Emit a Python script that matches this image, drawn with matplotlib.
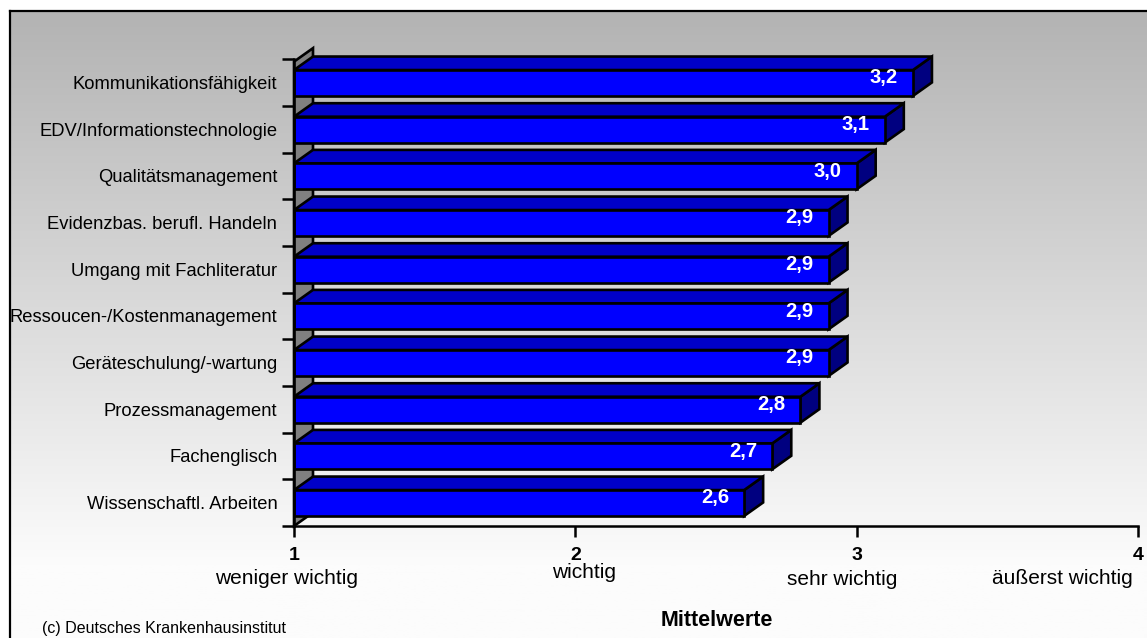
import numpy as np
import matplotlib.pyplot as plt
from matplotlib.patches import Polygon

plt.rcParams['font.family'] = ['Liberation Sans', 'DejaVu Sans']

# data (top to bottom as shown)
kompetenzen = [
    "Kommunikationsfähigkeit",
    "EDV/Informationstechnologie",
    "Qualitätsmanagement",
    "Evidenzbas. berufl. Handeln",
    "Umgang mit Fachliteratur",
    "Ressoucen-/Kostenmanagement",
    "Geräteschulung/-wartung",
    "Prozessmanagement",
    "Fachenglisch",
    "Wissenschaftl. Arbeiten",
]
mittelwerte = [3.2, 3.1, 3.0, 2.9, 2.9, 2.9, 2.9, 2.8, 2.7, 2.6]

skala_werte = [1, 2, 3, 4]
skala_texte = ["weniger wichtig", "wichtig", "sehr wichtig", "äußerst wichtig"]

W, H = 1147, 638
fig = plt.figure(figsize=(W / 100, H / 100), dpi=100)
fig.patch.set_facecolor("white")

# grey-to-white gradient inside the frame
bg = fig.add_axes([0, 0, 1, 1], zorder=-10)
bg.set_xlim(0, W)
bg.set_ylim(H, 0)
bg.axis("off")
grad = np.linspace(179, 252, 300)
grad = np.clip(np.concatenate([grad, np.full(40, 252)]), 0, 255) / 255.0
img = np.repeat(grad[:, None], 2, axis=1)
bg.imshow(np.dstack([img, img, img]), extent=[10, W, 640, 11], aspect="auto")
bg.plot([10, 10], [H, 11], color="black", lw=1.6)
bg.plot([10, W], [11, 11], color="black", lw=1.6)

# main plotting area
x0, x1, ybot, ytop = 294, 1138, 526, 59.3
ax = fig.add_axes([x0 / W, (H - ybot) / H, (x1 - x0) / W, (ybot - ytop) / H])
ax.set_xlim(1, 4)
ax.set_ylim(0, 10)
ax.patch.set_alpha(0)
for s in ["top", "right"]:
    ax.spines[s].set_visible(False)
for s in ["left", "bottom"]:
    ax.spines[s].set_linewidth(1.8)
    ax.spines[s].set_zorder(5)

n = len(kompetenzen)
dx = 19 / 281.3   # depth offset in value units
dy = 13.5 / 46.7  # depth offset in category units
f0, f1 = 0.215, 0.77
lw = 1.9

# left wall
wall = Polygon([(1, 0), (1 + dx, dy), (1 + dx, n + dy - 0.05), (1, n - 0.05)],
               closed=True, facecolor="#808080", edgecolor="black", lw=lw,
               clip_on=False, zorder=1)
ax.add_patch(wall)

for k, (name, v) in enumerate(zip(kompetenzen, mittelwerte)):
    i = n - 1 - k
    y0, y1 = i + f0, i + f1
    side = Polygon([(v, y0), (v + dx, y0 + dy), (v + dx, y1 + dy), (v, y1)],
                   facecolor="#000080", edgecolor="black", lw=lw, clip_on=False, zorder=2)
    top = Polygon([(1, y1), (v, y1), (v + dx, y1 + dy), (1 + dx, y1 + dy)],
                  facecolor="#0000c8", edgecolor="black", lw=lw, clip_on=False, zorder=2)
    front = Polygon([(1, y0), (v, y0), (v, y1), (1, y1)],
                    facecolor="#0000ff", edgecolor="black", lw=lw, clip_on=False, zorder=3)
    for p in (side, top, front):
        ax.add_patch(p)
    ax.text(v - 0.053, i + 0.6, f"{v:.1f}".replace(".", ","), color="white",
            fontsize=14.5, fontweight="bold", ha="right", va="center", zorder=4)

# category ticks at slot borders, labels centred in slots
ax.set_yticks(np.arange(0, n + 1))
ax.set_yticklabels([])
ax.set_yticks(np.arange(n) + 0.5, minor=True)
ax.set_yticklabels(kompetenzen[::-1], minor=True, fontsize=13.2)
ax.tick_params(axis="y", which="major", length=9, width=1.8, direction="out")
ax.tick_params(axis="y", which="minor", length=0, pad=12)

ax.set_xticks(skala_werte)
ax.set_xticklabels([str(s) for s in skala_werte], fontsize=14, fontweight="bold")
ax.tick_params(axis="x", length=8, width=1.8, direction="out", pad=7)

# scale descriptions below the tick numbers
tx = [0.975, 2.03, 2.95, 3.73]
ty = [-1.12, -1.00, -1.15, -1.13]
for x, y, t in zip(tx, ty, skala_texte):
    ax.text(x, y, t, fontsize=15, ha="center", va="center", clip_on=False)

fig.text(717 / W, 1 - 620 / H, "Mittelwerte", fontsize=15.5, fontweight="bold",
         ha="center", va="center")
fig.text(42 / W, 1 - 629 / H, "(c) Deutsches Krankenhausinstitut", fontsize=11.5,
         ha="left", va="center")

fig.savefig("out.png", dpi=100)
